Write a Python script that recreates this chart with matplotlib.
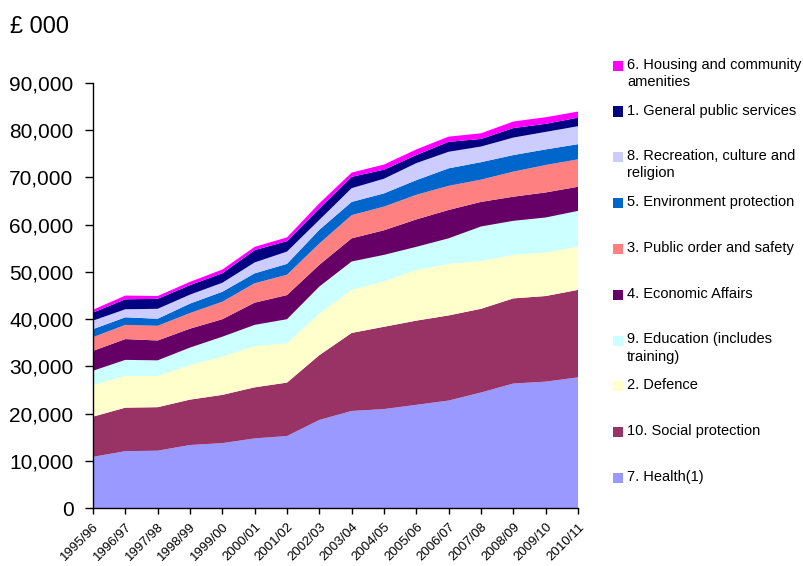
import matplotlib
matplotlib.use("Agg")
import matplotlib.pyplot as plt
from matplotlib.patches import Rectangle
from matplotlib.ticker import FuncFormatter

plt.rcParams['font.family'] = ['Liberation Sans', 'DejaVu Sans']

years = ["1995/96", "1996/97", "1997/98", "1998/99", "1999/00", "2000/01",
         "2001/02", "2002/03", "2003/04", "2004/05", "2005/06", "2006/07",
         "2007/08", "2008/09", "2009/10", "2010/11"]

# values in £000 (stack order bottom -> top)
health = [10900, 12100, 12200, 13400, 13800, 14800, 15300, 18700, 20600, 21000, 21900, 22800, 24500, 26400, 26800, 27700]
social = [8500, 9200, 9200, 9600, 10200, 10800, 11300, 13700, 16500, 17400, 17800, 18000, 17700, 18000, 18100, 18500]
defence = [6700, 6700, 6600, 7300, 8100, 8700, 8300, 8800, 9100, 9600, 10700, 10900, 10100, 9200, 9200, 9100]
education = [3000, 3400, 3300, 3700, 4200, 4500, 5100, 5700, 6000, 5600, 4900, 5400, 7300, 7200, 7400, 7600]
economic = [4200, 4400, 4200, 4000, 3700, 4700, 5100, 4600, 4900, 5200, 5800, 6000, 5200, 5100, 5300, 5100]
public_order = [2900, 3000, 3100, 3300, 3700, 4100, 4300, 4500, 4900, 5000, 5200, 5100, 4700, 5300, 5800, 5800]
environment = [1700, 1600, 1500, 2000, 2100, 2100, 2300, 2900, 2800, 2800, 3100, 3700, 3700, 3500, 3300, 3200]
recreation = [1800, 1700, 2100, 1900, 1900, 2300, 2600, 2100, 2900, 3100, 3600, 3500, 3300, 3700, 3700, 3800]
general = [1700, 2100, 2100, 2000, 2000, 2600, 2200, 2400, 2400, 1900, 1700, 2100, 1600, 2000, 1700, 1800]
housing = [600, 800, 600, 700, 800, 700, 800, 1100, 900, 1100, 1200, 1100, 1200, 1400, 1400, 1300]

series = [health, social, defence, education, economic, public_order,
          environment, recreation, general, housing]
labels = ["7. Health(1)", "10. Social protection", "2. Defence",
          "9. Education (includes\ntraining)", "4. Economic Affairs",
          "3. Public order and safety", "5. Environment protection",
          "8. Recreation, culture and\nreligion", "1. General public services",
          "6. Housing and community\namenities"]
colors = ["#9999FF", "#993366", "#FFFFCC", "#CCFFFF", "#660066",
          "#FF8080", "#0066CC", "#CCCCFF", "#000080", "#FF00FF"]

W, H = 804, 566
fig = plt.figure(figsize=(W / 100, H / 100), dpi=100)
ax = fig.add_axes([93 / W, 1 - 508.4 / H, (578 - 93) / W, (508.4 - 82.7) / H])

x = list(range(len(years)))
ax.stackplot(x, *series, colors=colors, linewidth=0)

ax.set_xlim(0, len(years) - 1)
ax.set_ylim(0, 90000)
ax.set_yticks(range(0, 90001, 10000))
ax.yaxis.set_major_formatter(FuncFormatter(lambda v, p: f"{int(v):,}"))
ax.set_xticks(x)
ax.set_xticklabels(years, rotation=45, ha='right', rotation_mode='anchor', fontsize=9.5)

for s in ['top', 'right']:
    ax.spines[s].set_visible(False)
for s in ['left', 'bottom']:
    ax.spines[s].set_color('black')
    ax.spines[s].set_linewidth(1.0)
ax.tick_params(axis='y', labelsize=15, length=6, width=1, pad=8, direction='out')
ax.tick_params(axis='x', length=4, width=1, pad=5, direction='out')

fig.text(10 / W, 1 - 27 / H, "£ 000", fontsize=17, va='center', ha='left')

# legend (top -> bottom)
leg_y = [66, 111.5, 157, 203, 249, 295, 340.5, 386, 432, 478]
for i, yy in enumerate(leg_y):
    idx = len(series) - 1 - i
    fig.patches.append(Rectangle((613.5 / W, 1 - (yy + 5) / H), 10 / W, 10 / H,
                                 transform=fig.transFigure, facecolor=colors[idx],
                                 edgecolor='none'))
    fig.text(627 / W, 1 - (yy - 8) / H, labels[idx], fontsize=10.5,
             va='top', ha='left', linespacing=1.3)

fig.savefig("out.png", dpi=100)
